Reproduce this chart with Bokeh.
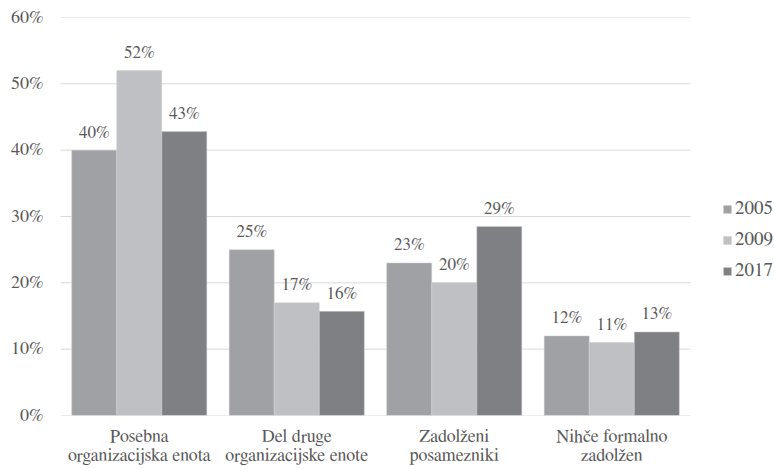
from bokeh.plotting import figure
from bokeh.models import ColumnDataSource, Legend, LegendItem, FixedTicker, Range1d
from bokeh.core.properties import value
from bokeh.embed import file_html
from bokeh.resources import INLINE

categories = ["Posebna\norganizacijska enota", "Del druge\norganizacijske enote",
              "Zadolženi\nposamezniki", "Nihče formalno\nzadolžen"]
years = ["2005", "2009", "2017"]
v2005 = [40.0, 25.0, 23.0, 12.0]
v2009 = [52.0, 17.0, 20.0, 11.0]
v2017 = [42.8, 15.7, 28.5, 12.6]
y_ticks = [0, 10, 20, 30, 40, 50, 60]
colors = ["#A0A1A4", "#BFC0C3", "#7F8084"]

FONT = "FreeSerif"
TXT = "#595959"

def lab(vals):
    return [f"{int(v + 0.5)}%" for v in vals]

xc = [i + 0.5 for i in range(len(categories))]
bw = 0.286
offs = [-bw, 0.0, bw]
vals = {"2005": v2005, "2009": v2009, "2017": v2017}

p = figure(x_range=Range1d(0, 714 / 157.5), y_range=Range1d(0, 60),
           width=774, height=469, output_backend="svg", toolbar_location=None,
           min_border_left=60, min_border_right=0, min_border_top=17, min_border_bottom=54)
p.outline_line_color = None
p.background_fill_color = "white"
p.border_fill_color = "white"

p.xgrid.grid_line_color = None
p.ygrid.grid_line_color = None
p.segment(x0=[0] * len(y_ticks), x1=[len(categories)] * len(y_ticks), y0=y_ticks, y1=y_ticks,
          line_color="#D9D9D9", line_width=1)

renderers = []
for yr, col, off in zip(years, colors, offs):
    src = ColumnDataSource(dict(x=[c + off for c in xc], top=vals[yr], lab=lab(vals[yr])))
    r = p.vbar(x="x", top="top", width=bw, bottom=0, source=src,
               fill_color=col, line_color="#D0D0D0", line_width=0.5)
    renderers.append(r)
    p.text(x="x", y="top", text="lab", source=src,
           text_align="center", text_baseline="middle", y_offset=-18,
           text_font=value(FONT), text_font_size="17px", text_color=TXT)

p.yaxis.ticker = FixedTicker(ticks=y_ticks)
p.yaxis.major_label_overrides = {t: f"{t}%" for t in y_ticks}
p.xaxis.ticker = FixedTicker(ticks=xc)
p.xaxis.major_label_overrides = {c: name for c, name in zip(xc, categories)}
for ax in (p.xaxis[0], p.yaxis[0]):
    ax.axis_line_color = None
    ax.major_tick_line_color = None
    ax.minor_tick_line_color = None
    ax.major_tick_out = 0
    ax.major_tick_in = 0
    ax.minor_tick_out = 0
    ax.minor_tick_in = 0
    ax.major_label_text_color = TXT
    ax.major_label_text_font = FONT
p.yaxis.major_label_text_font_size = "18px"
p.xaxis.major_label_text_font_size = "18px"
p.xaxis.major_label_text_line_height = 1.1
p.yaxis.major_label_standoff = 17
p.xaxis.major_label_standoff = 12

legend = Legend(items=[LegendItem(label=yr, renderers=[r]) for yr, r in zip(years, renderers)],
                location=(662, 134), orientation="vertical",
                glyph_width=10, glyph_height=10, label_standoff=3, label_height=20,
                spacing=10, padding=0, margin=0, border_line_color=None,
                background_fill_alpha=0,
                label_text_font=FONT, label_text_font_size="19px", label_text_color=TXT)
p.add_layout(legend, "center")

open("out.html", "w").write(file_html(p, INLINE))
